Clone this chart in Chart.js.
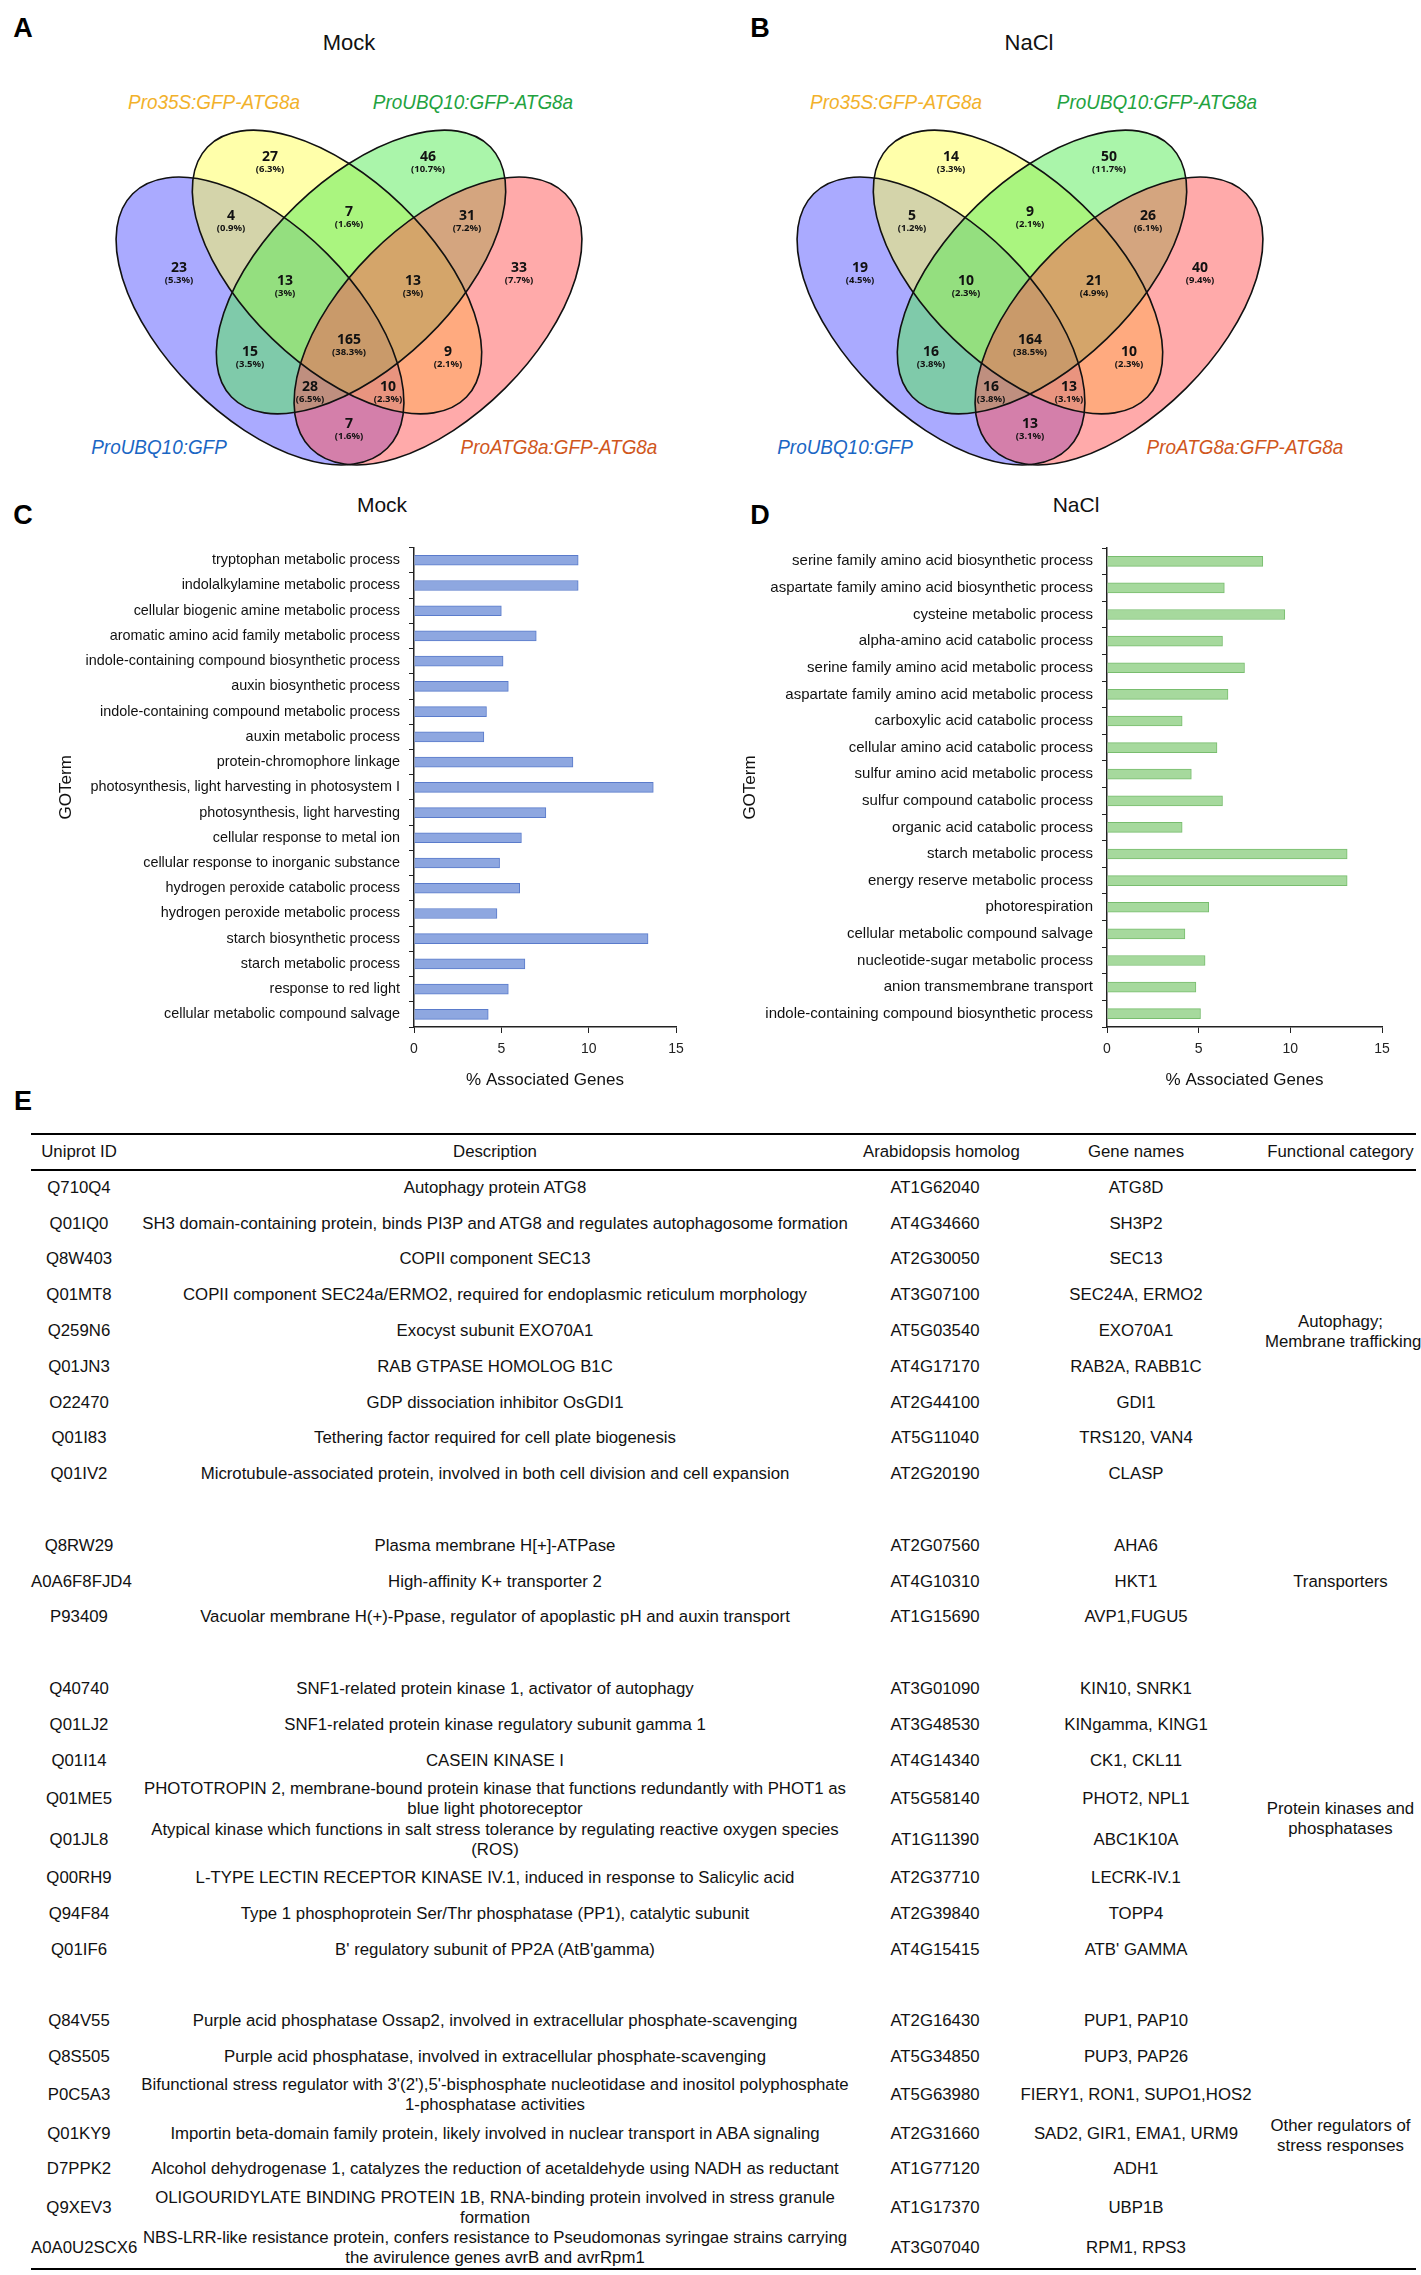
<!DOCTYPE html>
<html>
<head>
<meta charset="utf-8">
<script src="https://cdn.jsdelivr.net/npm/chart.js@4.4.0/dist/chart.umd.min.js"></script>
<style>
body { margin:0; background:#fff; width:1421px; height:2275px; position:relative; overflow:hidden;
  font-family:"Liberation Sans", Arial, sans-serif; color:#111; }
.t { position:absolute; transform:translate(-50%,-50%); white-space:nowrap; }
.letter { font-weight:bold; font-size:27px; color:#000; }
.vtitle { font-size:22px; }
.btitle { font-size:21px; }
.set { font-style:italic; font-size:21px; transform:translate(-50%,-50%) scaleX(0.9); }
canvas { position:absolute; }
#tbl { position:absolute; left:31px; top:1133px; width:1385px; border-collapse:collapse; table-layout:fixed;
  font-size:16.8px; border-top:2px solid #000; border-bottom:2px solid #000; }
#tbl td, #tbl th { padding:0; text-align:center; vertical-align:middle; white-space:nowrap; line-height:20px; font-weight:normal; overflow:visible; }
#tbl thead tr { height:36px; border-bottom:2px solid #000; }
</style>
</head>
<body>

<div class="t letter" style="left:23px;top:28px">A</div>
<div class="t vtitle" style="left:349px;top:43px">Mock</div>
<div class="t set" style="left:214px;top:102px;color:#F2B12A">Pro35S:GFP-ATG8a</div>
<div class="t set" style="left:473px;top:102px;color:#22A23E">ProUBQ10:GFP-ATG8a</div>
<div class="t set" style="left:159px;top:447px;color:#1A66C4">ProUBQ10:GFP</div>
<div class="t set" style="left:559px;top:447px;color:#D0561C">ProATG8a:GFP-ATG8a</div>

<div class="t letter" style="left:760px;top:28px">B</div>
<div class="t vtitle" style="left:1029px;top:43px">NaCl</div>
<div class="t set" style="left:896px;top:102px;color:#F2B12A">Pro35S:GFP-ATG8a</div>
<div class="t set" style="left:1157px;top:102px;color:#22A23E">ProUBQ10:GFP-ATG8a</div>
<div class="t set" style="left:845px;top:447px;color:#1A66C4">ProUBQ10:GFP</div>
<div class="t set" style="left:1245px;top:447px;color:#D0561C">ProATG8a:GFP-ATG8a</div>

<div class="t letter" style="left:23px;top:515px">C</div>
<div class="t btitle" style="left:382px;top:505px">Mock</div>
<div class="t letter" style="left:760px;top:515px">D</div>
<div class="t btitle" style="left:1076px;top:505px">NaCl</div>
<div class="t letter" style="left:23px;top:1101px">E</div>

<canvas id="vennA" width="710" height="490" style="left:0;top:0"></canvas>
<canvas id="vennB" width="711" height="490" style="left:710px;top:0"></canvas>
<canvas id="barC" width="700" height="570" style="left:0;top:530px"></canvas>
<canvas id="barD" width="700" height="570" style="left:710px;top:530px"></canvas>

<table id="tbl">
  <colgroup><col style="width:96px"><col style="width:736px"><col style="width:144px"><col style="width:258px"><col style="width:151px"></colgroup>
  <thead><tr><th>Uniprot ID</th><th>Description</th><th>Arabidopsis homolog</th><th>Gene names</th><th>Functional category</th></tr></thead>
  <tbody id="tbody"></tbody>
</table>

<script>
// ---- Venn data (regions: B=ProUBQ10:GFP, Y=Pro35S, G=ProUBQ10:GFP-ATG8a, R=ProATG8a) ----
var vennRegions = ["Y", "G", "BY", "YG", "GR", "B", "BYG", "YGR", "R", "BYGR", "BG", "YR", "BGR", "BYR", "BR"];
var mockCounts = [27, 46, 4, 7, 31, 23, 13, 13, 33, 165, 15, 9, 28, 10, 7];
var naclCounts = [14, 50, 5, 9, 26, 19, 10, 21, 40, 164, 16, 10, 16, 13, 13];

// where each region's number sits (x relative to the venn centre)
var regionX = [-79, 79, -118, 0, 118, -170, -64, 64, 170, 0, -99, 99, -39, 39, 0];
var regionY = [157, 157, 216, 212, 216, 268, 281, 281, 268, 340, 352, 352, 387, 387, 424];

// ellipses: blue, yellow, green, red
var ellipses = [
  {x: -89, y: 321, a: 180, b: 95, rot: 45, color: "rgba(85,85,255,0.5)"},
  {x: -12, y: 272, a: 180, b: 93, rot: 44, color: "rgba(255,255,85,0.5)"},
  {x: 12, y: 272, a: 180, b: 93, rot: 136, color: "rgba(85,235,85,0.5)"},
  {x: 89, y: 321, a: 180, b: 95, rot: 135, color: "rgba(255,85,85,0.5)"}
];

// ---- GO bar data ----
var mockTerms = ["tryptophan metabolic process", "indolalkylamine metabolic process", "cellular biogenic amine metabolic process",
  "aromatic amino acid family metabolic process", "indole-containing compound biosynthetic process", "auxin biosynthetic process",
  "indole-containing compound metabolic process", "auxin metabolic process", "protein-chromophore linkage",
  "photosynthesis, light harvesting in photosystem I", "photosynthesis, light harvesting", "cellular response to metal ion",
  "cellular response to inorganic substance", "hydrogen peroxide catabolic process", "hydrogen peroxide metabolic process",
  "starch biosynthetic process", "starch metabolic process", "response to red light", "cellular metabolic compound salvage"];
var mockValues = [9.4, 9.4, 5.0, 7.0, 5.1, 5.4, 4.15, 4.0, 9.1, 13.7, 7.55, 6.15, 4.9, 6.05, 4.75, 13.4, 6.35, 5.4, 4.25];

var naclTerms = ["serine family amino acid biosynthetic process", "aspartate family amino acid biosynthetic process",
  "cysteine metabolic process", "alpha-amino acid catabolic process", "serine family amino acid metabolic process",
  "aspartate family amino acid metabolic process", "carboxylic acid catabolic process", "cellular amino acid catabolic process",
  "sulfur amino acid metabolic process", "sulfur compound catabolic process", "organic acid catabolic process",
  "starch metabolic process", "energy reserve metabolic process", "photorespiration", "cellular metabolic compound salvage",
  "nucleotide-sugar metabolic process", "anion transmembrane transport", "indole-containing compound biosynthetic process"];
var naclValues = [8.5, 6.4, 9.7, 6.3, 7.5, 6.6, 4.1, 6.0, 4.6, 6.3, 4.1, 13.1, 13.1, 5.55, 4.25, 5.35, 4.85, 5.1];
var xTicks = [0, 5, 10, 15];

// ---- table data ----
var tableIds = ["Q710Q4", "Q01IQ0", "Q8W403", "Q01MT8", "Q259N6", "Q01JN3", "O22470", "Q01I83", "Q01IV2",
  "Q8RW29", "A0A6F8FJD4", "P93409",
  "Q40740", "Q01LJ2", "Q01I14", "Q01ME5", "Q01JL8", "Q00RH9", "Q94F84", "Q01IF6",
  "Q84V55", "Q8S505", "P0C5A3", "Q01KY9", "D7PPK2", "Q9XEV3", "A0A0U2SCX6"];
var tableDesc = ["Autophagy protein ATG8",
  "SH3 domain-containing protein, binds PI3P and ATG8 and regulates autophagosome formation",
  "COPII component SEC13",
  "COPII component SEC24a/ERMO2, required for endoplasmic reticulum morphology",
  "Exocyst subunit EXO70A1",
  "RAB GTPASE HOMOLOG B1C",
  "GDP dissociation inhibitor OsGDI1",
  "Tethering factor required for cell plate biogenesis",
  "Microtubule-associated protein, involved in both cell division and cell expansion",
  "Plasma membrane H[+]-ATPase",
  "High-affinity K+ transporter 2",
  "Vacuolar membrane H(+)-Ppase, regulator of apoplastic pH and auxin transport",
  "SNF1-related protein kinase 1, activator of autophagy",
  "SNF1-related protein kinase regulatory subunit gamma 1",
  "CASEIN KINASE I",
  "PHOTOTROPIN 2, membrane-bound protein kinase that functions redundantly with PHOT1 as|blue light photoreceptor",
  "Atypical kinase which functions in salt stress tolerance by regulating reactive oxygen species|(ROS)",
  "L-TYPE LECTIN RECEPTOR KINASE IV.1, induced in response to Salicylic acid",
  "Type 1 phosphoprotein Ser/Thr phosphatase (PP1), catalytic subunit",
  "B' regulatory subunit of PP2A (AtB'gamma)",
  "Purple acid phosphatase Ossap2, involved in extracellular phosphate-scavenging",
  "Purple acid phosphatase, involved in extracellular phosphate-scavenging",
  "Bifunctional stress regulator with 3'(2'),5'-bisphosphate nucleotidase and inositol polyphosphate|1-phosphatase activities",
  "Importin beta-domain family protein, likely involved in nuclear transport in ABA signaling",
  "Alcohol dehydrogenase 1, catalyzes the reduction of acetaldehyde using NADH as reductant",
  "OLIGOURIDYLATE BINDING PROTEIN 1B, RNA-binding protein involved in stress granule|formation",
  "NBS-LRR-like resistance protein, confers resistance to Pseudomonas syringae strains carrying|the avirulence genes avrB and avrRpm1"];
var tableHomolog = ["AT1G62040", "AT4G34660", "AT2G30050", "AT3G07100", "AT5G03540", "AT4G17170", "AT2G44100", "AT5G11040", "AT2G20190",
  "AT2G07560", "AT4G10310", "AT1G15690",
  "AT3G01090", "AT3G48530", "AT4G14340", "AT5G58140", "AT1G11390", "AT2G37710", "AT2G39840", "AT4G15415",
  "AT2G16430", "AT5G34850", "AT5G63980", "AT2G31660", "AT1G77120", "AT1G17370", "AT3G07040"];
var tableGenes = ["ATG8D", "SH3P2", "SEC13", "SEC24A, ERMO2", "EXO70A1", "RAB2A, RABB1C", "GDI1", "TRS120, VAN4", "CLASP",
  "AHA6", "HKT1", "AVP1,FUGU5",
  "KIN10, SNRK1", "KINgamma, KING1", "CK1, CKL11", "PHOT2, NPL1", "ABC1K10A", "LECRK-IV.1", "TOPP4", "ATB' GAMMA",
  "PUP1, PAP10", "PUP3, PAP26", "FIERY1, RON1, SUPO1,HOS2", "SAD2, GIR1, EMA1, URM9", "ADH1", "UBP1B", "RPM1, RPS3"];
var tableCategories = ["Autophagy;|Membrane trafficking", "Transporters", "Protein kinases and|phosphatases", "Other regulators of|stress responses"];
var categorySizes = [9, 3, 8, 7];

Chart.defaults.font.family = '"Liberation Sans", Arial, sans-serif';
Chart.defaults.color = "#111";

//draws the four ellipses and the region numbers
function vennPlugin(counts) {
  var total = counts.reduce(function(s, v) { return s + v; }, 0);
  return {
    id: "venn",
    beforeDatasetsDraw: function(chart) {
      var ctx = chart.ctx, xs = chart.scales.x, ys = chart.scales.y;
      var unitX = xs.getPixelForValue(1) - xs.getPixelForValue(0);
      var unitY = Math.abs(ys.getPixelForValue(1) - ys.getPixelForValue(0));
      ctx.save();
      ellipses.forEach(function(e) {
        ctx.beginPath();
        ctx.ellipse(xs.getPixelForValue(e.x), ys.getPixelForValue(e.y), e.a * unitX, e.b * unitY, e.rot * Math.PI / 180, 0, 2 * Math.PI);
        ctx.fillStyle = e.color;
        ctx.fill();
      });
      ctx.lineWidth = 1.6;
      ctx.strokeStyle = "#111";
      ellipses.forEach(function(e) {
        ctx.beginPath();
        ctx.ellipse(xs.getPixelForValue(e.x), ys.getPixelForValue(e.y), e.a * unitX, e.b * unitY, e.rot * Math.PI / 180, 0, 2 * Math.PI);
        ctx.stroke();
      });
      ctx.restore();
    },
    afterDatasetsDraw: function(chart) {
      var ctx = chart.ctx;
      var pts = chart.getDatasetMeta(0).data;
      ctx.save();
      ctx.textAlign = "center";
      ctx.textBaseline = "middle";
      ctx.fillStyle = "#111";
      pts.forEach(function(p, i) {
        var pct = (counts[i] / total * 100).toFixed(1).replace(/\.0$/, "") + "%";
        ctx.font = 'bold 14px "Noto Sans", "DejaVu Sans", sans-serif';
        ctx.fillText(String(counts[i]), p.x, p.y);
        ctx.font = 'bold 9.5px "Noto Sans", "DejaVu Sans", sans-serif';
        ctx.fillText("(" + pct + ")", p.x, p.y + 12.7);
      });
      ctx.restore();
    }
  };
}

function makeVenn(id, centre, width, counts) {
  var pts = [];
  for (var i = 0; i < vennRegions.length; i++) {
    pts.push({x: regionX[i], y: regionY[i]});
  }
  new Chart(document.getElementById(id), {
    type: "scatter",
    data: {datasets: [{data: pts, pointRadius: 0}]},
    options: {
      responsive: false, animation: false,
      layout: {padding: 0},
      plugins: {legend: {display: false}, tooltip: {enabled: false}},
      scales: {
        x: {display: false, min: -centre, max: width - centre},
        y: {display: false, min: 0, max: 490, reverse: true}
      }
    },
    plugins: [vennPlugin(counts)]
  });
}

makeVenn("vennA", 349, 710, mockCounts);
makeVenn("vennB", 320, 711, naclCounts);

function makeBars(id, terms, values, fill, border, pad, yWidth, labelSize) {
  new Chart(document.getElementById(id), {
    type: "bar",
    data: {
      labels: terms,
      datasets: [{data: values, backgroundColor: fill, borderColor: border, borderWidth: 1, barThickness: 10}]
    },
    options: {
      indexAxis: "y", responsive: false, animation: false,
      layout: {padding: pad},
      plugins: {legend: {display: false}, tooltip: {enabled: false}},
      scales: {
        x: {
          min: xTicks[0], max: xTicks[xTicks.length - 1],
          afterBuildTicks: function(s) { s.ticks = xTicks.map(function(v) { return {value: v}; }); },
          ticks: {color: "#222", font: {size: 14}, padding: 8},
          grid: {drawOnChartArea: false, drawTicks: true, tickLength: 6, color: "#222"},
          border: {color: "#222", width: 1.5},
          title: {display: true, text: "% Associated Genes", font: {size: 17}, color: "#111", padding: {top: 4, bottom: 6}},
          afterFit: function(s) { s.height = 70; }
        },
        y: {
          ticks: {color: "#111", font: {size: labelSize}, padding: 9, autoSkip: false},
          grid: {drawOnChartArea: false, drawTicks: true, tickLength: 5, color: "#222", offset: true},
          border: {color: "#222", width: 1.5},
          title: {display: true, text: "GOTerm", font: {size: 17}, color: "#111", padding: {top: 4, bottom: 4}},
          afterFit: function(s) { s.width = yWidth; }
        }
      }
    }
  });
}

makeBars("barC", mockTerms, mockValues, "#8EA7E0", "#5A7BCB", {left: 52, right: 24, top: 16, bottom: 3}, 362, 14.4);
makeBars("barD", naclTerms, naclValues, "#A6D99D", "#78BD6E", {left: 26, right: 28, top: 12.5, bottom: 3}, 371, 15);

// ---- table rows ----
function cellHtml(s) { return s.split("|").join("<br>"); }
var tbody = document.getElementById("tbody");
var html = "";
var k = 0;
for (var g = 0; g < categorySizes.length; g++) {
  for (var r = 0; r < categorySizes[g]; r++) {
    var twoLine = tableDesc[k].indexOf("|") >= 0;
    html += '<tr style="height:' + (twoLine ? 40.8 : 35.8) + 'px">';
    html += "<td>" + tableIds[k] + "</td><td>" + cellHtml(tableDesc[k]) + "</td><td>" + tableHomolog[k] + "</td><td>" + tableGenes[k] + "</td>";
    if (r == 0) html += '<td rowspan="' + categorySizes[g] + '">' + cellHtml(tableCategories[g]) + "</td>";
    html += "</tr>";
    k++;
  }
  if (g < categorySizes.length - 1) html += '<tr style="height:35.8px"><td colspan="5"></td></tr>';
}
tbody.innerHTML = html;
</script>
</body>
</html>
